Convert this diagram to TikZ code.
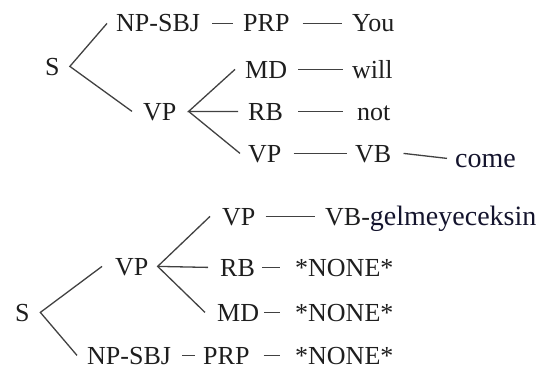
\documentclass[tikz,border=0pt]{standalone}
\usepackage{fontspec}
\setmainfont{Liberation Serif}
\definecolor{ink}{RGB}{30,30,30}
\definecolor{lineink}{RGB}{65,65,65}
\definecolor{wordink}{RGB}{20,20,45}
\begin{document}
\begin{tikzpicture}[x=1pt,y=-1pt,
  lbl/.style={anchor=base west, inner sep=0pt, text height=17.2pt, text depth=0pt,
              font=\fontsize{26}{30}\selectfont, text=ink},
  word/.style={lbl, font=\fontsize{28}{32}\selectfont, text=wordink},
  br/.style={draw=lineink, line width=1.3pt}]
\useasboundingbox (0,0) rectangle (540,369);
% ---------- top tree ----------
\node[lbl] (S1) at (45,75) {S};
\node[lbl] (NP1) at (116,32) {NP-SBJ};
\node[lbl] (PRP1) at (243,32) {PRP};
\node[lbl] (you) at (352,32) {You};
\node[lbl] (VP1) at (143,120) {VP};
\node[lbl] (MD1) at (245,78) {MD};
\node[lbl] (will) at (352,78) {will};
\node[lbl] (RB1) at (248,120) {RB};
\node[lbl] (not) at (357,120) {not};
\node[lbl] (VP2) at (248,162) {VP};
\node[lbl] (VB1) at (355,162) {VB};
\node[word] (come) at (455,167) {come};
\coordinate (j1) at ([xshift=10pt]S1.east);
\coordinate (j2) at ([xshift=12pt]VP1.east);
\draw[br] ([xshift=-9pt]NP1.west) -- (j1) -- ([xshift=-11pt]VP1.west);
\draw[br] ([xshift=-10pt]MD1.west) -- (j2) -- ([xshift=-10pt]RB1.west);
\draw[br] (j2) -- ([xshift=-8pt]VP2.west);
\draw[br] ([xshift=12pt]NP1.east) -- ([xshift=-10pt]PRP1.west);
\draw[br] ([xshift=13pt]PRP1.east) -- ([xshift=-10pt]you.west);
\draw[br] ([xshift=11pt]MD1.east) -- ([xshift=-9pt]will.west);
\draw[br] ([xshift=15pt]RB1.east) -- ([xshift=-14pt]not.west);
\draw[br] ([xshift=12pt]VP2.east) -- ([xshift=-8pt]VB1.west);
\draw[br] ([xshift=12pt]VB1.east) -- ([xshift=-8pt]come.west);
% ---------- bottom tree ----------
\node[lbl] (VP3) at (222,225) {VP};
\node[lbl] (VBg) at (325,225) {VB-{\color{wordink}\fontsize{28}{32}\selectfont gelmeyeceksin}};
\node[lbl] (VP4) at (115,275) {VP};
\node[lbl] (RB2) at (220,276) {RB};
\node[lbl] (none1) at (295,276) {*NONE*};
\node[lbl] (S2) at (15,321) {S};
\node[lbl] (MD2) at (217,321) {MD};
\node[lbl] (none2) at (295,321) {*NONE*};
\node[lbl] (NP2) at (87,364) {NP-SBJ};
\node[lbl] (PRP2) at (203,364) {PRP};
\node[lbl] (none3) at (295,364) {*NONE*};
\coordinate (j3) at ([xshift=10.5pt]S2.east);
\coordinate (j4) at ([xshift=9pt]VP4.east);
\draw[br] ([xshift=-13pt]VP4.west) -- (j3) -- ([xshift=-10pt]NP2.west);
\draw[br] ([xshift=-12pt]VP3.west) -- (j4) -- ([xshift=-12pt]MD2.west);
\draw[br] (j4) -- ([xshift=-12pt]RB2.west);
\draw[br] ([xshift=10pt]VP3.east) -- ([xshift=-10pt]VBg.west);
\draw[br] ([xshift=7pt]RB2.east) -- ([xshift=-15pt]none1.west);
\draw[br] ([xshift=5pt]MD2.east) -- ([xshift=-15pt]none2.west);
\draw[br] ([xshift=11pt]NP2.east) -- ([xshift=-8pt]PRP2.west);
\draw[br] ([xshift=14pt]PRP2.east) -- ([xshift=-15pt]none3.west);
\end{tikzpicture}
\end{document}
